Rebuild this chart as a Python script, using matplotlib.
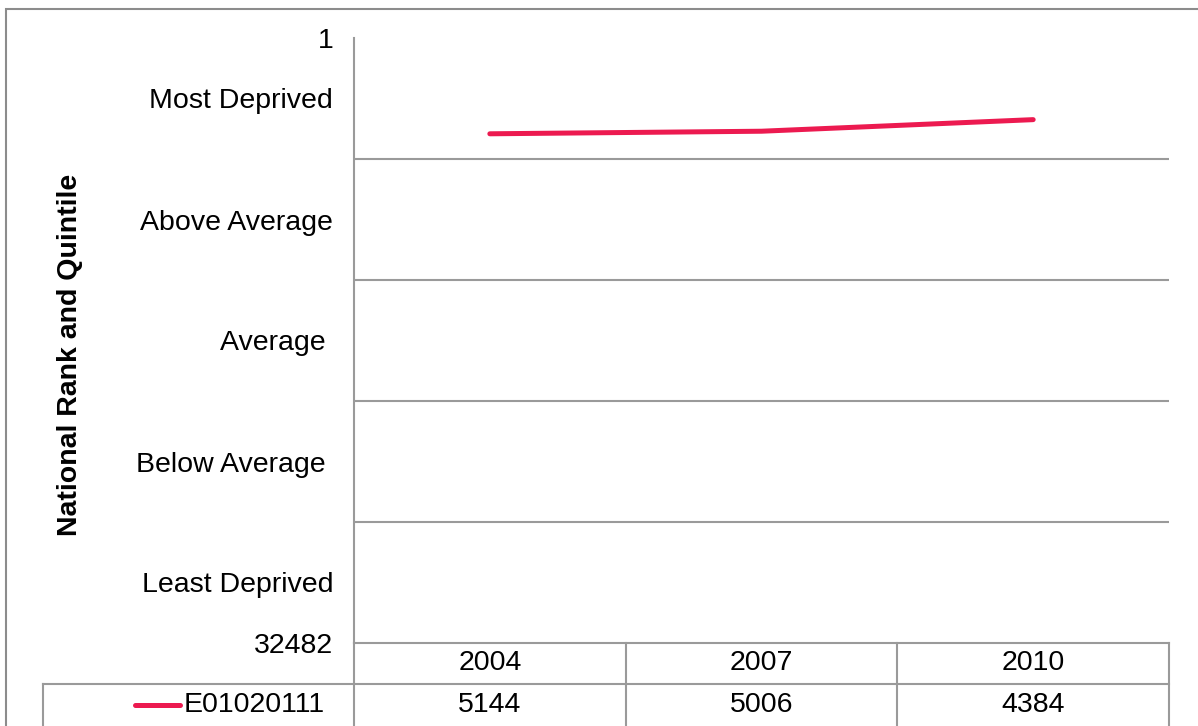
import matplotlib.pyplot as plt
from matplotlib.patches import Rectangle
from matplotlib.transforms import blended_transform_factory

# data
years = ['2004', '2007', '2010']
series_name = 'E01020111'
ranks = [5144, 5006, 4384]
rank_max = 32482
quintile_labels = ['Most Deprived', 'Above Average', 'Average ', 'Below Average ', 'Least Deprived']

plt.rcParams['font.family'] = ['Liberation Sans', 'DejaVu Sans']
line_col = '#EC1A50'
grid_col = '#9A9A9A'
fs = 20.5

fig = plt.figure(figsize=(11.98, 7.26), dpi=100)
ax = fig.add_axes([354 / 1198, 1 - 643 / 726, (1169 - 354) / 1198, (643 - 38) / 726])

x = list(range(len(years)))
ax.plot(x, ranks, color=line_col, lw=3.6, solid_capstyle='round', clip_on=False)

ax.set_xlim(-0.5, len(years) - 0.5)
ax.set_ylim(rank_max, 1)

# quintile gridlines
step = (rank_max - 1) / 5
for i in range(1, 5):
    ax.axhline(1 + i * step, color=grid_col, lw=1.5)

# y ticks: 1, quintile names at band centres, max rank
ticks = [1] + [1 + (i + 0.5) * step for i in range(5)] + [rank_max]
labels = ['1'] + quintile_labels + [str(rank_max)]
ax.set_yticks(ticks)
ax.set_yticklabels(labels, fontsize=fs)
ax.tick_params(axis='y', length=0, pad=15)
ax.set_xticks([])

for s in ['top', 'right']:
    ax.spines[s].set_visible(False)
ax.spines['left'].set_color(grid_col)
ax.spines['left'].set_linewidth(1.5)
ax.spines['bottom'].set_color(grid_col)
ax.spines['bottom'].set_linewidth(1.5)

ax.set_ylabel('National Rank and Quintile', fontsize=fs, fontweight='bold')
ax.yaxis.set_label_coords(-0.333, 0.476)

# data table below the axis
tr = blended_transform_factory(ax.transData, ax.transAxes)
row1 = -41 / 605
row2 = -83 / 605
bottom = -0.16
col_w = 271.7
for i in range(len(years) + 1):
    ax.plot([i - 0.5, i - 0.5], [0, bottom], color=grid_col, lw=1.5, transform=tr, clip_on=False)
ax.plot([-0.5 - 311 / col_w, len(years) - 0.5], [row1, row1], color=grid_col, lw=1.5,
        transform=tr, clip_on=False)
ax.plot([-0.5 - 311 / col_w] * 2, [row1, bottom], color=grid_col, lw=1.5, transform=tr, clip_on=False)

for xi, yr, rk in zip(x, years, ranks):
    ax.text(xi, row1 / 2, yr, transform=tr, ha='center', va='center', fontsize=fs)
    ax.text(xi, (row1 + row2) / 2, str(rk), transform=tr, ha='center', va='center', fontsize=fs)

# legend key in table
ax.plot([-0.5 - 219 / col_w, -0.5 - 174 / col_w], [(row1 + row2) / 2] * 2, color=line_col, lw=3.6,
        solid_capstyle='round', transform=tr, clip_on=False)
ax.text(-0.5 - 170 / col_w, (row1 + row2) / 2, series_name, transform=tr, ha='left', va='center',
        fontsize=fs)

# chart area border
fig.patches.append(Rectangle((6 / 1198, -0.01), 1.0, 1 - 9 / 726 + 0.01, transform=fig.transFigure,
                             fill=False, edgecolor='#8C8C8C', lw=1.5))

plt.savefig('out.png', dpi=100)
